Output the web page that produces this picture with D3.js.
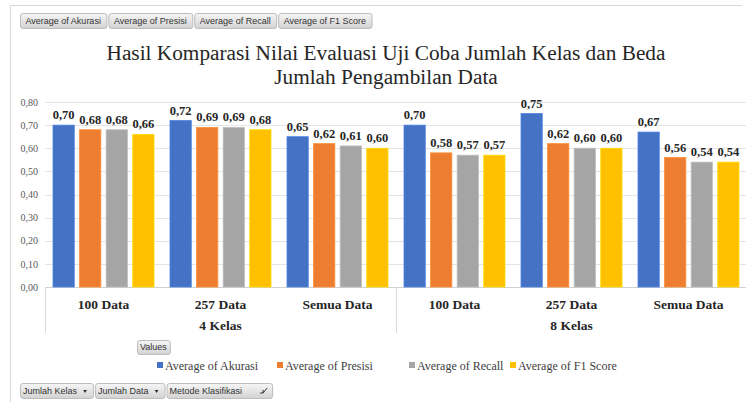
<!DOCTYPE html>
<html>
<head>
<meta charset="utf-8">
<script src="https://cdn.jsdelivr.net/npm/d3@7"></script>
<style>
  body { margin: 0; background: #fff; }
  svg { display: block; }
  .btn text { font-family: "Liberation Sans", Arial, sans-serif; font-size: 9px; fill: #333; }
  .serif { font-family: "Liberation Serif", "Times New Roman", Times, serif; }
</style>
</head>
<body>
<script>
// data
const seriesNames = ["Average of Akurasi", "Average of Presisi", "Average of Recall", "Average of F1 Score"];
const kelas = ["4 Kelas", "8 Kelas"];
const jumlahData = ["100 Data", "257 Data", "Semua Data"];
const akurasi = [0.70, 0.72, 0.65, 0.70, 0.75, 0.67];
const presisi = [0.68, 0.69, 0.62, 0.58, 0.62, 0.56];
const recall = [0.68, 0.69, 0.61, 0.57, 0.60, 0.54];
const f1Score = [0.66, 0.68, 0.60, 0.57, 0.60, 0.54];
const yTicks = [0, 0.1, 0.2, 0.3, 0.4, 0.5, 0.6, 0.7, 0.8];
const colors = ["#4472C4", "#ED7D31", "#A5A5A5", "#FFC000"];
const topButtons = seriesNames;
const bottomButtons = ["Jumlah Kelas", "Jumlah Data", "Metode Klasifikasi"];

const width = 746;
const height = 402;

const seriesValues = [akurasi, presisi, recall, f1Score];
// category keys: kelas x jumlahData
const cats = [];
kelas.forEach(k => jumlahData.forEach(d => cats.push(k + "|" + d)));

const svg = d3
  .select("body")
  .append("svg")
  .attr("width", width)
  .attr("height", height);

const defs = svg.append("defs");
const grad = defs
  .append("linearGradient")
  .attr("id", "btnGrad")
  .attr("x1", 0).attr("y1", 0).attr("x2", 0).attr("y2", 1);
grad.append("stop").attr("offset", "0%").attr("stop-color", "#f6f6f6");
grad.append("stop").attr("offset", "100%").attr("stop-color", "#d2d2d2");

// frame
svg.append("line")
  .attr("x1", 10).attr("x2", 742).attr("y1", 5.5).attr("y2", 5.5)
  .attr("stroke", "#d9d9d9");
svg.append("line")
  .attr("x1", 10.5).attr("x2", 10.5).attr("y1", 5).attr("y2", height)
  .attr("stroke", "#d9d9d9");

const x0 = d3.scaleBand().domain(cats).range([45, 747]);
const x1 = d3.scaleBand().domain(seriesNames).range([8, 109]).paddingInner(0.2);
const y = d3.scaleLinear().domain([0, 0.8]).range([287, 102]);
const fmt = v => d3.format(".2f")(v).replace(".", ",");

// gridlines
svg.append("g")
  .selectAll("line")
  .data(yTicks)
  .join("line")
  .attr("x1", 45)
  .attr("x2", width)
  .attr("y1", d => Math.round(y(d)) + 0.5)
  .attr("y2", d => Math.round(y(d)) + 0.5)
  .attr("stroke", d => (d === 0 ? "#d0d0d0" : "#e4e4e4"));

// y axis labels
const yAxis = svg.append("g")
  .attr("transform", "translate(38,0)")
  .call(d3.axisLeft(y).tickValues(yTicks).tickFormat(fmt).tickSize(0).tickPadding(0));
yAxis.select(".domain").remove();
yAxis.selectAll("text")
  .attr("font-family", null)
  .attr("class", "serif")
  .attr("font-size", 10)
  .attr("fill", "#595959");

// bars
const groups = svg.append("g")
  .selectAll("g")
  .data(cats)
  .join("g")
  .attr("transform", d => `translate(${x0(d)},0)`);

groups.each(function(c, ci) {
  const g = d3.select(this);
  const rows = seriesNames.map((s, si) => ({ s, si, v: seriesValues[si][ci] }));
  g.selectAll("rect")
    .data(rows)
    .join("rect")
    .attr("x", d => x1(d.s))
    .attr("y", d => y(d.v))
    .attr("width", x1.bandwidth())
    .attr("height", d => y(0) - y(d.v))
    .attr("fill", d => colors[d.si])
    .attr("stroke", d => d3.color(colors[d.si]).brighter(0.4))
    .attr("stroke-width", 0.8);
  g.selectAll("text")
    .data(rows)
    .join("text")
    .attr("class", "serif")
    .attr("x", d => x1(d.s) + x1.bandwidth() / 2)
    .attr("y", d => y(d.v) - 6)
    .attr("text-anchor", "middle")
    .attr("font-weight", "bold")
    .attr("font-size", 12.5)
    .attr("fill", "#262626")
    .text(d => fmt(d.v));
});

// category axis
const catAxis = svg.append("g");
catAxis.selectAll("line")
  .data([0, 3, 6])
  .join("line")
  .attr("x1", d => Math.round(d === 6 ? 747 : x0(cats[d])) + 0.5)
  .attr("x2", d => Math.round(d === 6 ? 747 : x0(cats[d])) + 0.5)
  .attr("y1", 287)
  .attr("y2", 333)
  .attr("stroke", "#d9d9d9");
catAxis.selectAll("text.cat")
  .data(cats)
  .join("text")
  .attr("class", "cat serif")
  .attr("x", d => x0(d) + x0.bandwidth() / 2)
  .attr("y", 309)
  .attr("text-anchor", "middle")
  .attr("font-weight", "bold")
  .attr("font-size", 13.5)
  .attr("fill", "#262626")
  .text(d => d.split("|")[1]);
catAxis.selectAll("text.kelas")
  .data(kelas)
  .join("text")
  .attr("class", "kelas serif")
  .attr("x", (k, i) => x0(cats[i * 3]) + x0.bandwidth() * 1.5)
  .attr("y", 330)
  .attr("text-anchor", "middle")
  .attr("font-weight", "bold")
  .attr("font-size", 13.5)
  .attr("fill", "#262626")
  .text(d => d);

// title
const title = svg.append("text")
  .attr("class", "serif")
  .attr("text-anchor", "middle")
  .attr("font-size", 21.3)
  .attr("fill", "#262626");
title.append("tspan").attr("x", 386).attr("y", 60)
  .text("Hasil Komparasi Nilai Evaluasi Uji Coba Jumlah Kelas dan Beda");
title.append("tspan").attr("x", 386).attr("y", 84)
  .text("Jumlah Pengambilan Data");

// legend
const legendX = [157, 277, 409, 510];
const legend = svg.append("g")
  .selectAll("g")
  .data(seriesNames)
  .join("g")
  .attr("transform", (d, i) => `translate(${legendX[i]},366)`);
legend.append("rect")
  .attr("x", 0).attr("y", -4).attr("width", 6).attr("height", 6)
  .attr("fill", (d, i) => colors[i]);
legend.append("text")
  .attr("class", "serif")
  .attr("x", 8)
  .attr("y", 4)
  .attr("font-size", 12)
  .attr("fill", "#404040")
  .text(d => d);

// pivot field buttons
function drawButtons(items, x, yy, h, pad) {
  let cx = x;
  items.forEach(label => {
    const g = svg.append("g").attr("class", "btn");
    const t = g.append("text")
      .attr("x", cx + pad / 2)
      .attr("y", yy + h / 2 + 3)
      .text(label);
    const w = t.node().getComputedTextLength() + pad;
    g.insert("rect", "text")
      .attr("x", cx + 0.5).attr("y", yy + 0.5)
      .attr("width", w).attr("height", h)
      .attr("rx", 2.5)
      .attr("fill", "url(#btnGrad)")
      .attr("stroke", "#bdbdbd");
    cx += w + 2;
  });
}
drawButtons(topButtons, 20, 13, 15, 11);
drawButtons(["Values"], 137, 340, 14, 6);

// bottom field buttons with dropdown arrows
const bottomExtra = [14, 14, 28];
let bx = 20;
bottomButtons.forEach((label, i) => {
  const g = svg.append("g").attr("class", "btn");
  const t = g.append("text").attr("x", bx + 3).attr("y", 394).text(label);
  const w = t.node().getComputedTextLength() + 5 + bottomExtra[i];
  g.insert("rect", "text")
    .attr("x", bx + 0.5).attr("y", 383.5)
    .attr("width", w).attr("height", 15)
    .attr("rx", 2.5)
    .attr("fill", "url(#btnGrad)")
    .attr("stroke", "#bdbdbd");
  if (i < 2) {
    g.append("path")
      .attr("d", `M${bx + w - 10},390 l4,0 l-2,3 z`)
      .attr("fill", "#333");
  } else {
    g.append("path")
      .attr("d", `M${bx + w - 12},393 l3,0 l0,-3 M${bx + w - 9},393 l4,-5`)
      .attr("stroke", "#333")
      .attr("fill", "none")
      .attr("stroke-width", 1);
  }
  bx += w + 2;
});
</script>
</body>
</html>
